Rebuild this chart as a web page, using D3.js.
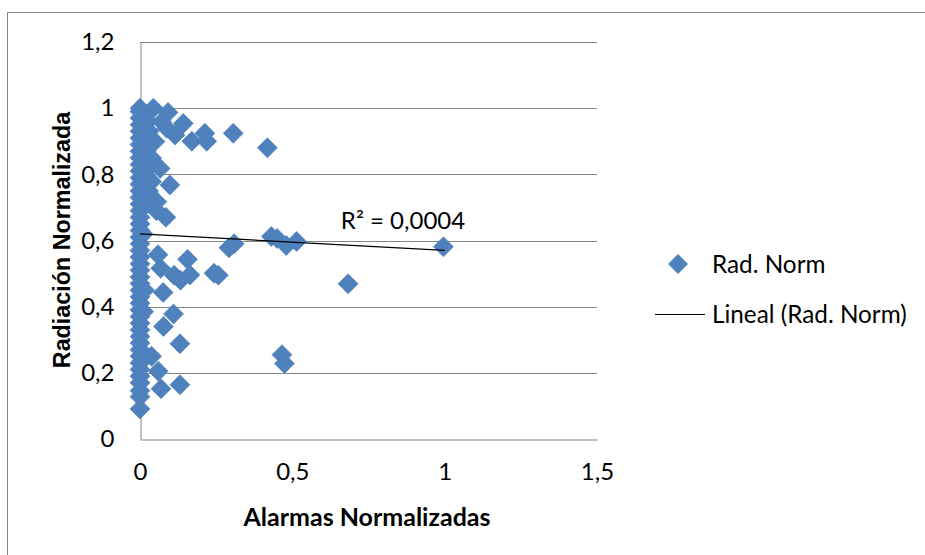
<!DOCTYPE html>
<html><head><meta charset="utf-8">
<script src="https://cdn.jsdelivr.net/npm/d3@7"></script>
<style>body{margin:0;background:#fff}svg{display:block}</style>
</head><body>
<svg id="c" width="925" height="555"></svg>
<script>
// Data
const alarmas = [
 0,0,0,0,0,0,0,0,0,0,0,0,0,0,0,0,0,0,0,0,0,0,0,0,0,0,0,0,0,0,0,0,0,0,0,0,0,0,0,0,0,0,0,0,0,0,
 0.015,0.012,0.015,0.01,0.02,0.028,0.038,0.038,0.049,0.03,0.025,0.044,0.071,0.088,0.055,0.02,0.02,
 0.092,0.142,0.115,0.17,0.213,0.219,0.306,0.418,0.066,0.098,0.054,0.085,
 0.431,0.45,0.48,0.514,0.292,0.309,0.996,0.683,
 0.059,0.156,0.068,0.112,0.133,0.164,0.243,0.257,0.076,0.11,0.077,0.131,
 0.466,0.474,0.06,0.069,0.131,0.038
];
const radiacion = [
 0.091,0.128,0.146,0.17,0.19,0.21,0.23,0.25,0.27,0.29,0.31,0.33,0.35,0.37,0.39,0.41,0.43,0.45,0.47,0.49,0.51,0.53,0.55,0.57,0.59,0.61,0.63,0.65,0.67,0.69,0.71,0.73,0.75,0.77,0.79,0.81,0.83,0.85,0.87,0.89,0.91,0.93,0.95,0.97,0.99,1.0,
 0.255,0.385,0.45,0.62,0.72,0.75,0.778,0.849,0.899,0.93,0.96,1.0,0.959,0.939,0.717,0.81,0.87,
 0.987,0.954,0.919,0.9,0.924,0.9,0.924,0.88,0.818,0.768,0.69,0.67,
 0.612,0.606,0.585,0.597,0.578,0.59,0.581,0.469,
 0.557,0.543,0.516,0.495,0.48,0.496,0.501,0.495,0.443,0.378,0.34,0.288,
 0.255,0.228,0.205,0.152,0.164,0.25
];
const trendX = [0, 1];
const trendY = [0.62, 0.57];
const r2Label = "R² = 0,0004";
const xTicks = [0, 0.5, 1, 1.5];
const yTicks = [0, 0.2, 0.4, 0.6, 0.8, 1, 1.2];
const seriesName = "Rad. Norm";
const trendName = "Lineal (Rad. Norm)";
const xTitle = "Alarmas Normalizadas";
const yTitle = "Radiación Normalizada";

const fmt = v => String(v).replace(".", ",");
const svg = d3.select("#c");
const grey = "#868686";
const blue = "#4F81BD";
const lab = "Lato, 'Open Sans', sans-serif";

// outer border
svg.append("rect").attr("x",7.5).attr("y",12.5).attr("width",930).attr("height",560)
  .attr("fill","none").attr("stroke",grey).attr("stroke-width",1);

const x = d3.scaleLinear().domain([0,1.5]).range([140,597]);
const y = d3.scaleLinear().domain([0,1.2]).range([439,42]);

// gridlines
svg.append("g").selectAll("line").data(yTicks.filter(d=>d>0)).join("line")
  .attr("x1",x(0)).attr("x2",x(1.5))
  .attr("y1",d=>Math.round(y(d))+0.5).attr("y2",d=>Math.round(y(d))+0.5)
  .attr("stroke",grey).attr("stroke-width",1);

// axes
const xAxis = svg.append("g").attr("transform",`translate(0,${Math.round(y(0))+0.5})`)
  .call(d3.axisBottom(x).tickValues(xTicks).tickFormat(fmt).tickSize(0).tickPadding(20));
const yAxis = svg.append("g").attr("transform",`translate(${Math.round(x(0))+0.5},0)`)
  .call(d3.axisLeft(y).tickValues(yTicks).tickFormat(fmt).tickSize(0).tickPadding(26));
[xAxis,yAxis].forEach(a=>{
  a.select(".domain").attr("stroke",grey).attr("stroke-width",1);
  a.selectAll("text").attr("font-family",lab).attr("font-size",24).attr("fill","#000");
});
xAxis.selectAll("text").attr("dy","0.85em");

// points
const pts = alarmas.map((a,i)=>({a, r: radiacion[i]}));
const sym = d3.symbol().type(d3.symbolSquare).size(200);
svg.append("g").selectAll("path").data(pts).join("path")
  .attr("d", sym)
  .attr("transform", d=>`translate(${x(d.a)},${y(d.r)}) rotate(45)`)
  .attr("fill", blue).attr("stroke","#4A7EBB").attr("stroke-width",0.6);

// trendline
svg.append("path").datum(trendX.map((t,i)=>[t,trendY[i]]))
  .attr("d", d3.line().x(d=>x(d[0])).y(d=>y(d[1])))
  .attr("stroke","#000").attr("stroke-width",1.2).attr("fill","none");

svg.append("text").attr("x",403).attr("y",229).attr("text-anchor","middle")
  .attr("font-family",lab).attr("font-size",24).text(r2Label);

// titles
svg.append("text").attr("x",367).attr("y",526).attr("text-anchor","middle")
  .attr("font-family",lab).attr("font-weight","bold").attr("font-size",25).text(xTitle);
svg.append("text").attr("transform","translate(70,240) rotate(-90)").attr("text-anchor","middle")
  .attr("font-family","'Liberation Sans', Arial, sans-serif").attr("font-weight","bold").attr("font-size",23.3).text(yTitle);

// legend
const lg = svg.append("g");
lg.append("path").attr("d", sym).attr("transform","translate(678,264) rotate(45)").attr("fill",blue);
lg.append("text").attr("x",712).attr("y",264).attr("dy","0.35em")
  .attr("font-family",lab).attr("font-size",24.3).text(seriesName);
lg.append("line").attr("x1",655).attr("x2",705).attr("y1",314.5).attr("y2",314.5)
  .attr("stroke","#000").attr("stroke-width",1.2);
lg.append("text").attr("x",712).attr("y",314).attr("dy","0.35em")
  .attr("font-family",lab).attr("font-size",24.3).text(trendName);
</script>
</body></html>
